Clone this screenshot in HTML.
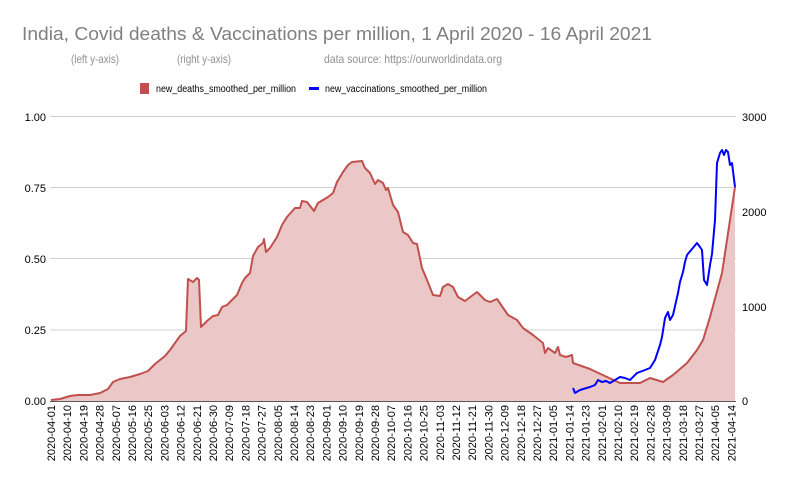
<!DOCTYPE html><html><head><meta charset="utf-8"><style>body{margin:0;background:#fff}svg{display:block}text{font-family:"Liberation Sans",sans-serif}</style></head><body>
<svg width="790" height="488" viewBox="0 0 790 488" xmlns="http://www.w3.org/2000/svg">
<text x="22" y="40" font-size="18.5" fill="#808080" textLength="630" lengthAdjust="spacingAndGlyphs">India, Covid deaths &amp; Vaccinations per million, 1 April 2020  - 16 April 2021</text>
<text x="71" y="63" font-size="12" fill="#909090" textLength="48" lengthAdjust="spacingAndGlyphs">(left y-axis)</text>
<text x="177" y="63" font-size="12" fill="#909090" textLength="54" lengthAdjust="spacingAndGlyphs">(right y-axis)</text>
<text x="324" y="63" font-size="12" fill="#909090" textLength="178" lengthAdjust="spacingAndGlyphs">data source: https://ourworldindata.org</text>
<rect x="140" y="83" width="9" height="11" fill="#c0504d"/>
<text x="156" y="92" font-size="10" fill="#000" textLength="140" lengthAdjust="spacingAndGlyphs">new_deaths_smoothed_per_million</text>
<rect x="309" y="87" width="10" height="3" fill="#0000ff"/>
<text x="325" y="92" font-size="10" fill="#000" textLength="162" lengthAdjust="spacingAndGlyphs">new_vaccinations_smoothed_per_million</text>
<g stroke="#d0d0d0" stroke-width="1">
<line x1="50" x2="736" y1="116.5" y2="116.5"/><line x1="50" x2="736" y1="187.5" y2="187.5"/><line x1="50" x2="736" y1="258.5" y2="258.5"/><line x1="50" x2="736" y1="330" y2="330"/></g>
<g font-size="11" fill="#000" text-anchor="end">
<text x="46" y="121">1.00</text><text x="46" y="192">0.75</text><text x="46" y="263">0.50</text><text x="46" y="334">0.25</text><text x="46" y="405">0.00</text></g>
<g font-size="11" fill="#000">
<text x="742" y="121">3000</text><text x="742" y="216">2000</text><text x="742" y="311">1000</text><text x="742" y="405">0</text></g>
<polygon fill="#ebc8c7" stroke="none" points="51,401 51,400 60,399 70,396 78,395 90,395 100,393 108,389 113,382 120,379 125,378 130,377 140,374 148,371 155,364 165,356 170,350 180,336 186,331 188,279 193,282 197,278 199,280 201,327 207,321 213,316 218,315 222,307 227,305 232,300 237,295 242,283 245,278 250,273 253,256 258,247 263,243 264,239 266,252 270,248 277,237 282,225 287,217 295,208 300,208 302,201 307,202 314,211 318,203 328,197 333,193 337,182 343,172 348,165 352,162 362,161 365,168 370,173 375,184 378,180 383,183 386,190 388,188 393,205 398,212 403,232 408,235 413,243 417,244 422,268 427,280 433,295 440,296 443,287 448,284 453,287 458,297 465,301 477,292 485,300 490,302 497,299 508,315 517,320 523,328 533,335 543,343 545,353 548,348 555,353 558,347 560,355 566,357 572,355 573,363 590,369 607,377 620,383 640,383 650,378 663,382 673,375 687,363 697,350 703,340 710,317 722,273 735,187 735,401"/>
<polyline fill="none" stroke="#c0504d" stroke-width="2" stroke-linejoin="round" points="51,400 60,399 70,396 78,395 90,395 100,393 108,389 113,382 120,379 125,378 130,377 140,374 148,371 155,364 165,356 170,350 180,336 186,331 188,279 193,282 197,278 199,280 201,327 207,321 213,316 218,315 222,307 227,305 232,300 237,295 242,283 245,278 250,273 253,256 258,247 263,243 264,239 266,252 270,248 277,237 282,225 287,217 295,208 300,208 302,201 307,202 314,211 318,203 328,197 333,193 337,182 343,172 348,165 352,162 362,161 365,168 370,173 375,184 378,180 383,183 386,190 388,188 393,205 398,212 403,232 408,235 413,243 417,244 422,268 427,280 433,295 440,296 443,287 448,284 453,287 458,297 465,301 477,292 485,300 490,302 497,299 508,315 517,320 523,328 533,335 543,343 545,353 548,348 555,353 558,347 560,355 566,357 572,355 573,363 590,369 607,377 620,383 640,383 650,378 663,382 673,375 687,363 697,350 703,340 710,317 722,273 735,187"/>
<polyline fill="none" stroke="#0000ff" stroke-width="2" stroke-linejoin="round" points="573,388 575,393 580,390 590,387 595,385 598,380 602,382 606,381 610,383 615,380 620,377 625,378 630,380 637,373 645,370 650,368 655,360 660,345 662,337 665,318 668,312 670,320 673,315 678,293 680,282 683,272 685,262 687,255 692,249 697,243 700,247 702,250 704,280 707,285 710,265 712,254 715,220 717,163 720,153 722,150 724,155 726,150 728,152 730,165 732,163 735,187"/>
<line x1="50" x2="736" y1="401.5" y2="401.5" stroke="#595959" stroke-width="1"/>
<g font-size="11" fill="#000" text-anchor="end">
<text transform="translate(55,405) rotate(-90)">2020-04-01</text>
<text transform="translate(71.2,405) rotate(-90)">2020-04-10</text>
<text transform="translate(87.4,405) rotate(-90)">2020-04-19</text>
<text transform="translate(103.6,405) rotate(-90)">2020-04-28</text>
<text transform="translate(119.8,405) rotate(-90)">2020-05-07</text>
<text transform="translate(136,405) rotate(-90)">2020-05-16</text>
<text transform="translate(152.2,405) rotate(-90)">2020-05-25</text>
<text transform="translate(168.4,405) rotate(-90)">2020-06-03</text>
<text transform="translate(184.6,405) rotate(-90)">2020-06-12</text>
<text transform="translate(200.8,405) rotate(-90)">2020-06-21</text>
<text transform="translate(217,405) rotate(-90)">2020-06-30</text>
<text transform="translate(233.2,405) rotate(-90)">2020-07-09</text>
<text transform="translate(249.4,405) rotate(-90)">2020-07-18</text>
<text transform="translate(265.6,405) rotate(-90)">2020-07-27</text>
<text transform="translate(281.8,405) rotate(-90)">2020-08-05</text>
<text transform="translate(298,405) rotate(-90)">2020-08-14</text>
<text transform="translate(314.2,405) rotate(-90)">2020-08-23</text>
<text transform="translate(330.4,405) rotate(-90)">2020-09-01</text>
<text transform="translate(346.6,405) rotate(-90)">2020-09-10</text>
<text transform="translate(362.8,405) rotate(-90)">2020-09-19</text>
<text transform="translate(379,405) rotate(-90)">2020-09-28</text>
<text transform="translate(395.2,405) rotate(-90)">2020-10-07</text>
<text transform="translate(411.4,405) rotate(-90)">2020-10-16</text>
<text transform="translate(427.6,405) rotate(-90)">2020-10-25</text>
<text transform="translate(443.8,405) rotate(-90)">2020-11-03</text>
<text transform="translate(460,405) rotate(-90)">2020-11-12</text>
<text transform="translate(476.2,405) rotate(-90)">2020-11-21</text>
<text transform="translate(492.4,405) rotate(-90)">2020-11-30</text>
<text transform="translate(508.6,405) rotate(-90)">2020-12-09</text>
<text transform="translate(524.8,405) rotate(-90)">2020-12-18</text>
<text transform="translate(541,405) rotate(-90)">2020-12-27</text>
<text transform="translate(557.2,405) rotate(-90)">2021-01-05</text>
<text transform="translate(573.4,405) rotate(-90)">2021-01-14</text>
<text transform="translate(589.6,405) rotate(-90)">2021-01-23</text>
<text transform="translate(605.8,405) rotate(-90)">2021-02-01</text>
<text transform="translate(622,405) rotate(-90)">2021-02-10</text>
<text transform="translate(638.2,405) rotate(-90)">2021-02-19</text>
<text transform="translate(654.4,405) rotate(-90)">2021-02-28</text>
<text transform="translate(670.6,405) rotate(-90)">2021-03-09</text>
<text transform="translate(686.8,405) rotate(-90)">2021-03-18</text>
<text transform="translate(703,405) rotate(-90)">2021-03-27</text>
<text transform="translate(719.2,405) rotate(-90)">2021-04-05</text>
<text transform="translate(735.4,405) rotate(-90)">2021-04-14</text>
</g>
</svg></body></html>
